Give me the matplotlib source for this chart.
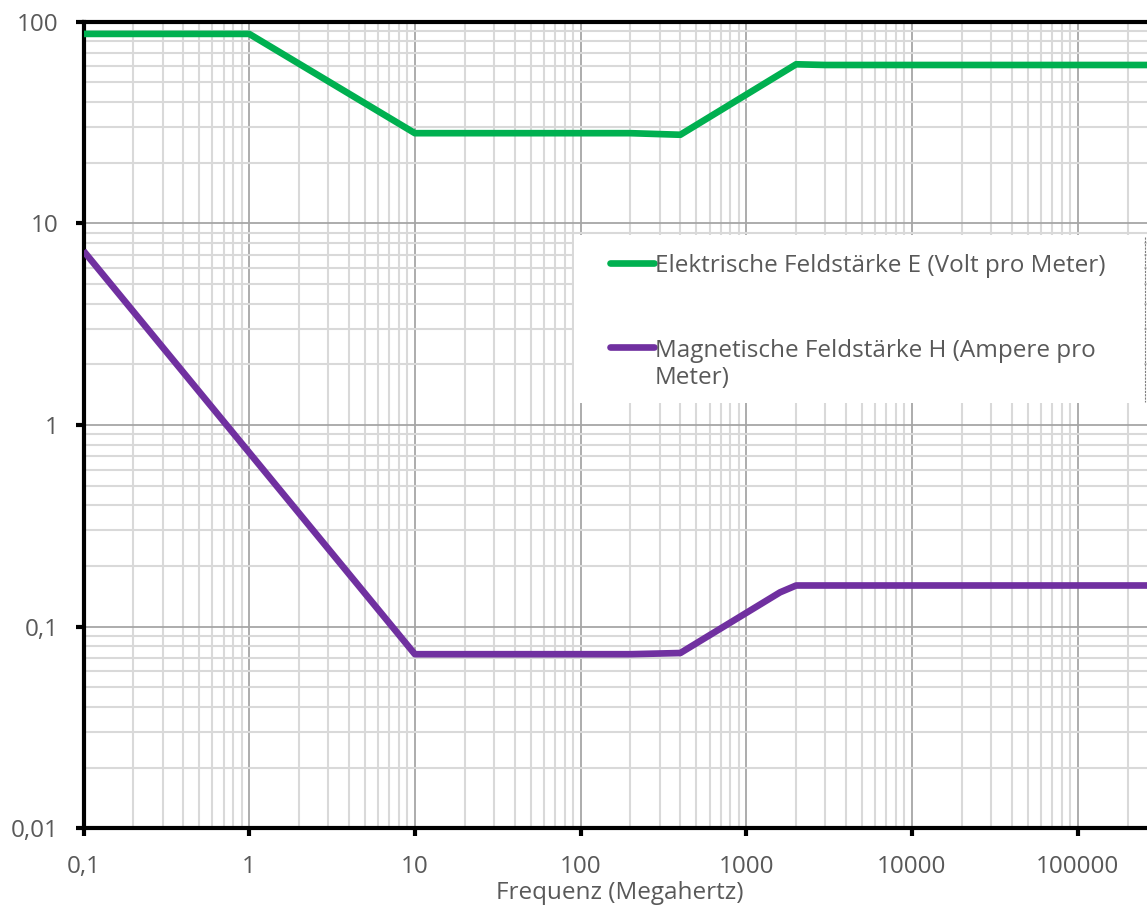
import matplotlib
matplotlib.use("Agg")
import matplotlib.pyplot as plt
from matplotlib.patches import Rectangle
from matplotlib.lines import Line2D
from matplotlib.ticker import LogLocator, NullFormatter

plt.rcParams['font.family'] = ['Open Sans', 'DejaVu Sans']

# Grenzwerte (Frequenz in MHz)
freq_e = [0.1, 1, 10, 200, 400, 2000, 3000, 300000]
val_e = [87, 87, 28, 28, 27.5, 61.5, 61, 61]
freq_h = [0.1, 1, 10, 200, 400, 1600, 2000, 300000]
val_h = [7.3, 0.73, 0.073, 0.073, 0.074, 0.148, 0.16, 0.16]

label_e = "Elektrische Feldstärke E (Volt pro Meter)"
label_h = "Magnetische Feldstärke H (Ampere pro\nMeter)"

xticks = [0.1, 1, 10, 100, 1000, 10000, 100000]
xticklabels = ["0,1", "1", "10", "100", "1000", "10000", "100000"]
yticks = [0.01, 0.1, 1, 10, 100]
yticklabels = ["0,01", "0,1", "1", "10", "100"]

FS = 17.5
W, H = 1147, 908
fig = plt.figure(figsize=(W / 100, H / 100), dpi=100)
ax = fig.add_axes([83.5 / W, (H - 828.3) / H, (1156.7 - 83.5) / W, (828.3 - 21.7) / H])

ax.plot(freq_e, val_e, color='#00b050', lw=4.8, solid_capstyle='butt', label=label_e, zorder=3)
ax.plot(freq_h, val_h, color='#7030a0', lw=4.8, solid_capstyle='butt', label=label_h, zorder=3)

ax.set_xscale('log')
ax.set_yscale('log')
ax.set_xlim(0.1, 300000)
ax.set_ylim(0.01, 100)

ax.set_xticks(xticks, xticklabels)
ax.set_yticks(yticks, yticklabels)
ax.xaxis.set_minor_locator(LogLocator(base=10, subs=range(2, 10), numticks=20))
ax.yaxis.set_minor_locator(LogLocator(base=10, subs=range(2, 10), numticks=20))
ax.xaxis.set_minor_formatter(NullFormatter())
ax.yaxis.set_minor_formatter(NullFormatter())

ax.grid(which='minor', color='#d9d9d9', lw=1.5, zorder=0)
ax.grid(which='major', color='#a6a6a6', lw=1.3, zorder=1)
ax.set_axisbelow(True)

for s in ['left', 'bottom', 'top', 'right']:
    ax.spines[s].set_linewidth(3)
    ax.spines[s].set_color('black')

ax.tick_params(which='major', length=6, width=3, color='black', labelsize=FS,
               labelcolor='#595959', direction='out')
ax.tick_params(axis='y', pad=12)
ax.tick_params(axis='x', pad=13)
ax.tick_params(which='minor', length=0)

ax.set_xlabel("Frequenz (Megahertz)", fontsize=FS, color='#595959')
ax.xaxis.set_label_coords(0.5, (828.3 - 893) / (828.3 - 21.7))
ax.xaxis.label.set_va('center')

# weisser Legendenhintergrund
bg = Rectangle((574 / W, 1 - 403 / H), (1144 - 574) / W, (403 - 235) / H,
               transform=fig.transFigure, facecolor='white', edgecolor='none',
               zorder=4, clip_on=False)
ax.add_patch(bg)
edge = Line2D([1144.5 / W, 1144.5 / W], [1 - 237 / H, 1 - 402 / H],
              transform=fig.transFigure, color='#7f7f7f', lw=0.8,
              linestyle=(0, (2, 1)), zorder=4)
fig.add_artist(edge)

leg = ax.legend(loc='upper left', bbox_to_anchor=(610 / W, 1 - 254 / H),
                bbox_transform=fig.transFigure, frameon=False, fontsize=FS,
                labelcolor='#595959', handlelength=1.8, handletextpad=0.05,
                labelspacing=2.5, borderpad=0, borderaxespad=0)
leg.set_zorder(5)
for ln in leg.get_lines():
    ln.set_linewidth(4.8)
    ln.set_solid_capstyle('round')
# zweiter Eintrag: Linie an der ersten Textzeile ausrichten
for col in leg._legend_handle_box.get_children():
    items = col.get_children()
    items[1].align = 'top'

fig.savefig('out.png', dpi=100)
